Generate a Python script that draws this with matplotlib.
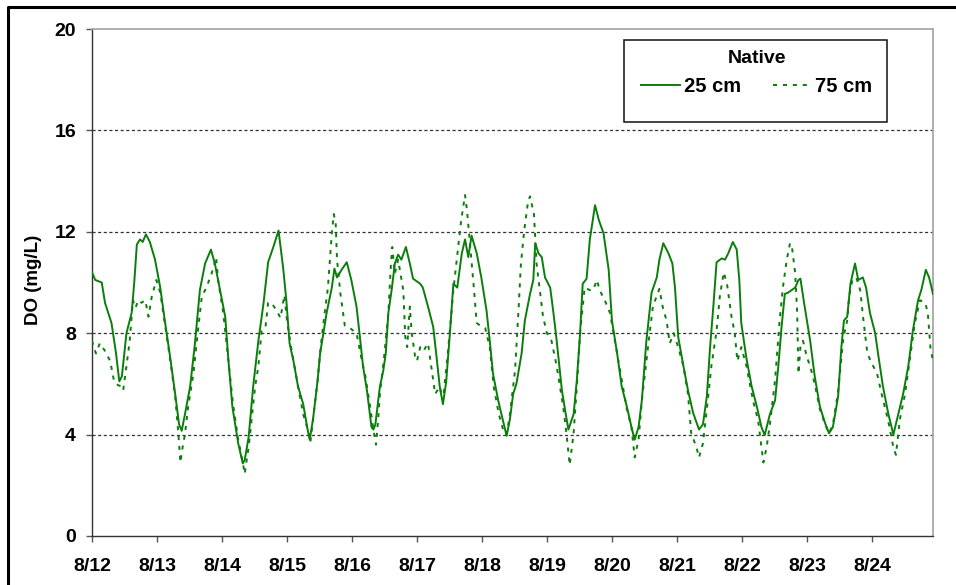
import matplotlib
matplotlib.use("Agg")
import matplotlib.pyplot as plt
from matplotlib.lines import Line2D
from matplotlib.patches import Rectangle

plt.rcParams['font.family'] = ['Liberation Sans', 'DejaVu Sans']

# time in days since 8/12 00:00
t25 = [0.00, 0.05, 0.15, 0.20, 0.30, 0.37, 0.42, 0.46, 0.53, 0.61, 0.65, 0.69, 0.74, 0.78, 0.83, 0.89,
       0.97, 1.05, 1.12, 1.20, 1.28, 1.34, 1.38, 1.43, 1.51, 1.58, 1.66, 1.74, 1.83, 1.89, 1.97, 2.05,
       2.10, 2.16, 2.25, 2.32, 2.35, 2.41, 2.48, 2.56, 2.64, 2.71, 2.79, 2.87, 2.94, 2.99, 3.04, 3.10,
       3.17, 3.25, 3.31, 3.35, 3.40, 3.47, 3.51, 3.56, 3.61, 3.69, 3.73, 3.77, 3.84, 3.92, 3.99, 4.07,
       4.12, 4.17, 4.23, 4.30, 4.33, 4.36, 4.43, 4.48, 4.52, 4.56, 4.61, 4.66, 4.71, 4.76, 4.83, 4.89,
       4.94, 5.05, 5.09, 5.17, 5.25, 5.30, 5.35, 5.40, 5.45, 5.51, 5.56, 5.62, 5.69, 5.74, 5.79, 5.84,
       5.92, 5.99, 6.07, 6.12, 6.17, 6.25, 6.30, 6.38, 6.43, 6.48, 6.53, 6.61, 6.66, 6.74, 6.79, 6.82,
       6.87, 6.92, 6.97, 7.05, 7.10, 7.15, 7.23, 7.28, 7.33, 7.41, 7.46, 7.51, 7.55, 7.61, 7.66, 7.74,
       7.80, 7.87, 7.95, 8.00, 8.08, 8.15, 8.23, 8.30, 8.35, 8.41, 8.46, 8.53, 8.61, 8.69, 8.73, 8.79,
       8.87, 8.93, 8.97, 9.02, 9.10, 9.17, 9.25, 9.34, 9.40, 9.46, 9.51, 9.56, 9.61, 9.69, 9.74, 9.79,
       9.86, 9.92, 9.96, 9.99, 10.07, 10.15, 10.23, 10.30, 10.35, 10.43, 10.51, 10.56, 10.61, 10.66,
       10.71, 10.82, 10.87, 10.90, 10.95, 11.00, 11.05, 11.12, 11.20, 11.28, 11.34, 11.40, 11.48, 11.53,
       11.57, 11.62, 11.67, 11.74, 11.79, 11.86, 11.91, 11.97, 12.05, 12.10, 12.17, 12.25, 12.33, 12.41,
       12.48, 12.56, 12.63, 12.71, 12.76, 12.83, 12.88, 12.94]
do25 = [10.4, 10.1, 10.0, 9.2, 8.4, 7.2, 6.1, 6.3, 8.0, 8.8, 10.0, 11.5, 11.7, 11.6, 11.9, 11.6,
        10.9, 9.8, 8.5, 7.1, 5.6, 4.4, 4.15, 4.8, 5.9, 7.5, 9.7, 10.75, 11.3, 10.75, 9.7, 8.65,
        6.9, 5.1, 3.65, 2.86, 3.0, 3.9, 5.9, 7.7, 9.2, 10.8, 11.4, 12.05, 10.6, 9.3, 7.6, 6.9,
        5.9, 5.2, 4.3, 3.8, 4.6, 6.1, 7.2, 8.0, 8.8, 9.8, 10.55, 10.2, 10.5, 10.8, 10.1, 9.05,
        7.9, 6.7, 5.75, 4.3, 4.2, 4.4, 5.9, 6.5, 7.2, 8.8, 9.7, 10.75, 11.1, 10.9, 11.4, 10.75,
        10.15, 9.95, 9.8, 9.05, 8.25, 7.1, 5.9, 5.2, 6.1, 8.1, 9.95, 9.8, 11.15, 11.7, 11.0, 11.85,
        11.15, 10.2, 8.9, 7.7, 6.4, 5.35, 4.8, 3.95, 4.6, 5.6, 6.0, 7.2, 8.5, 9.55, 10.1, 11.55,
        11.15, 11.0, 10.2, 9.8, 8.8, 7.7, 5.75, 4.95, 4.2, 4.8, 6.15, 8.0, 9.95, 10.15, 11.7, 13.05,
        12.45, 11.95, 10.5, 8.5, 7.2, 5.9, 5.1, 4.3, 3.8, 4.3, 5.35, 7.7, 9.6, 10.2, 10.9, 11.55,
        11.15, 10.75, 9.8, 7.85, 6.7, 5.75, 4.85, 4.2, 4.4, 5.5, 7.45, 9.05, 10.8, 10.95, 10.9, 11.15,
        11.6, 11.3, 10.1, 8.4, 7.0, 5.9, 5.1, 4.3, 3.98, 4.8, 5.35, 6.7, 8.25, 9.55,
        9.6, 9.8, 10.1, 10.15, 9.3, 8.5, 7.7, 6.3, 5.1, 4.45, 4.05, 4.3, 5.5, 7.45,
        8.5, 8.65, 9.95, 10.75, 10.1, 10.2, 9.8, 8.8, 8.0, 7.1, 5.9, 4.85, 4.0, 4.85,
        5.6, 6.7, 8.1, 9.3, 9.7, 10.5, 10.2, 9.55]

t75 = [0.00, 0.06, 0.12, 0.20, 0.28, 0.34, 0.40, 0.46, 0.48, 0.53, 0.58, 0.63, 0.67, 0.71, 0.76, 0.82,
       0.87, 0.92, 0.99, 1.05, 1.12, 1.20, 1.28, 1.33, 1.36, 1.40, 1.43, 1.48, 1.56, 1.63, 1.69, 1.76,
       1.84, 1.91, 1.94, 2.02, 2.07, 2.12, 2.17, 2.25, 2.32, 2.35, 2.38, 2.41, 2.51, 2.56, 2.61, 2.67,
       2.71, 2.76, 2.84, 2.90, 2.96, 3.00, 3.06, 3.17, 3.25, 3.32, 3.36, 3.42, 3.47, 3.52, 3.58, 3.63,
       3.66, 3.69, 3.72, 3.75, 3.77, 3.82, 3.89, 3.97, 4.07, 4.15, 4.20, 4.28, 4.33, 4.37, 4.40, 4.43,
       4.50, 4.56, 4.60, 4.62, 4.66, 4.71, 4.79, 4.82, 4.85, 4.89, 4.92, 4.97, 5.00, 5.05, 5.10, 5.17,
       5.22, 5.28, 5.35, 5.40, 5.47, 5.52, 5.56, 5.63, 5.68, 5.74, 5.77, 5.82, 5.87, 5.92, 6.00, 6.05,
       6.12, 6.18, 6.26, 6.33, 6.38, 6.43, 6.51, 6.56, 6.60, 6.65, 6.71, 6.74, 6.80, 6.84, 6.89, 6.94,
       7.00, 7.07, 7.15, 7.25, 7.30, 7.35, 7.41, 7.46, 7.51, 7.58, 7.66, 7.71, 7.77, 7.81, 7.89, 7.97,
       8.08, 8.23, 8.30, 8.35, 8.41, 8.46, 8.53, 8.58, 8.63, 8.73, 8.78, 8.84, 8.89, 8.95, 9.02, 9.10,
       9.17, 9.22, 9.30, 9.34, 9.40, 9.46, 9.53, 9.61, 9.66, 9.72, 9.77, 9.84, 9.89, 9.93, 9.99, 10.07,
       10.17, 10.25, 10.33, 10.38, 10.43, 10.51, 10.58, 10.63, 10.69, 10.74, 10.77, 10.82, 10.85, 10.87,
       10.90, 10.94, 11.00, 11.05, 11.12, 11.20, 11.28, 11.34, 11.40, 11.48, 11.56, 11.62, 11.65, 11.70,
       11.76, 11.82, 11.87, 11.93, 12.00, 12.08, 12.15, 12.25, 12.33, 12.37, 12.43, 12.51, 12.58, 12.66,
       12.74, 12.82, 12.86, 12.90, 12.94]
do75 = [7.7, 7.2, 7.6, 7.3, 6.9, 6.1, 5.95, 5.9, 5.75, 6.7, 7.7, 9.3, 9.0, 9.3, 9.2, 9.3,
        8.65, 9.45, 10.1, 9.6, 8.4, 7.0, 5.5, 4.0, 2.9, 3.6, 4.0, 5.1, 6.4, 8.1, 9.45, 9.8,
        10.35, 11.0, 10.1, 8.8, 7.6, 6.4, 5.2, 3.8, 2.9, 2.45, 3.0, 3.5, 5.9, 6.7, 8.1, 8.25,
        9.2, 9.2, 8.9, 8.6, 9.5, 8.5, 7.5, 5.9, 4.8, 4.2, 3.7, 5.0, 6.1, 7.5, 8.8, 9.8,
        10.9, 11.95, 12.7, 12.3, 10.9, 9.6, 8.3, 8.2, 8.0, 6.95, 6.4, 5.1, 4.2, 3.6, 4.5, 5.6,
        7.2, 8.8, 10.75, 11.4, 10.35, 10.9, 9.7, 7.85, 7.45, 9.05, 8.0, 7.1, 6.9, 7.45, 7.3, 7.6,
        6.7, 5.6, 5.9, 5.35, 7.1, 8.5, 9.7, 11.3, 12.45, 13.45, 12.85, 11.4, 9.95, 8.4, 8.25, 8.2,
        7.45, 5.9, 4.8, 4.15, 4.0, 4.8, 6.55, 8.8, 10.75, 12.05, 13.2, 13.4, 12.7, 10.75, 9.7, 8.65,
        8.0, 7.7, 6.7, 5.1, 4.05, 2.8, 4.05, 5.9, 8.0, 9.8, 9.7, 9.7, 10.1, 9.7, 9.3, 8.8,
        7.2, 5.0, 4.3, 3.1, 3.8, 5.35, 6.9, 8.0, 9.05, 9.75, 9.05, 8.5, 7.6, 8.0, 7.45, 6.7,
        5.6, 4.05, 3.5, 3.1, 3.65, 5.0, 6.7, 8.1, 9.45, 10.4, 9.95, 8.65, 8.0, 6.9, 7.45, 6.7,
        5.35, 4.55, 2.9, 3.5, 4.4, 6.15, 8.5, 9.8, 10.9, 11.55, 11.4, 10.35, 8.8, 6.4,
        7.45, 7.7, 7.05, 6.7, 6.0, 5.0, 4.4, 4.05, 4.4, 5.7, 7.8, 8.5, 9.45, 10.1,
        10.2, 9.7, 8.5, 7.2, 6.8, 6.4, 5.6, 4.55, 3.5, 3.2, 4.6, 5.6, 6.9, 8.4,
        9.3, 9.2, 8.8, 7.45, 6.9]

day_labels = ['8/12', '8/13', '8/14', '8/15', '8/16', '8/17', '8/18', '8/19',
              '8/20', '8/21', '8/22', '8/23', '8/24']
y_ticks = [0, 4, 8, 12, 16, 20]

W, H = 956, 585
fig = plt.figure(figsize=(W / 100, H / 100), dpi=100)
ax = fig.add_axes([92 / W, 1 - 536 / H, (933 - 92) / W, (536 - 29) / H])

green = '#0a7d0a'
ax.plot(t25, do25, color=green, lw=1.4, label='25 cm', zorder=3)
ax.plot(t75, do75, color=green, lw=1.4, linestyle=(0, (2.1, 3.0)), label='75 cm', zorder=3)

ax.set_xlim(0, 12.94)
ax.set_ylim(0, 20)
ax.set_xticks(range(len(day_labels)))
ax.set_xticklabels(day_labels)
ax.set_yticks(y_ticks)
ax.set_yticklabels([str(v) for v in y_ticks])
for v in y_ticks[1:-1]:
    ax.axhline(v, color='#333333', lw=0.9, linestyle=(0, (2.5, 2.0)), zorder=1)

for lab in ax.get_xticklabels() + ax.get_yticklabels():
    lab.set_fontweight('bold')
    lab.set_fontsize(14)
ax.tick_params(axis='x', direction='out', length=4.5, width=1, color='#555555', pad=11.5)
ax.tick_params(axis='y', direction='out', length=4.5, width=1, color='#555555', pad=7)

for s in ['left', 'bottom']:
    ax.spines[s].set_color('#333333')
    ax.spines[s].set_linewidth(1.0)
for s in ['top', 'right']:
    ax.spines[s].set_color('#a8a8a8')
    ax.spines[s].set_linewidth(1.3)

fig.text(33 / W, 1 - 280 / H, 'DO (mg/L)', rotation=90, fontsize=13.5, fontweight='bold',
         ha='center', va='center')

leg = ax.legend(loc='upper center', bbox_to_anchor=(757 / W, 1 - 34 / H),
                bbox_transform=fig.transFigure, ncol=2, frameon=False,
                title='Native', prop={'weight': 'bold', 'size': 14.5},
                title_fontproperties={'weight': 'bold', 'size': 14},
                handlelength=1.9, handletextpad=0.2, columnspacing=1.6, borderpad=0.3,
                labelspacing=0.5)
fig.patches.append(Rectangle((624 / W, 1 - 122 / H), (887 - 624) / W, (122 - 40) / H,
                             transform=fig.transFigure, fill=False, ec='#111111', lw=1.1))

# outer frame (left and top)
fig.add_artist(Line2D([8 / W, 8 / W, 1.0], [0.0, 1 - 7 / H, 1 - 7 / H],
                      transform=fig.transFigure, color='black', lw=2.2))

fig.savefig('out.png', dpi=100, facecolor='white')
